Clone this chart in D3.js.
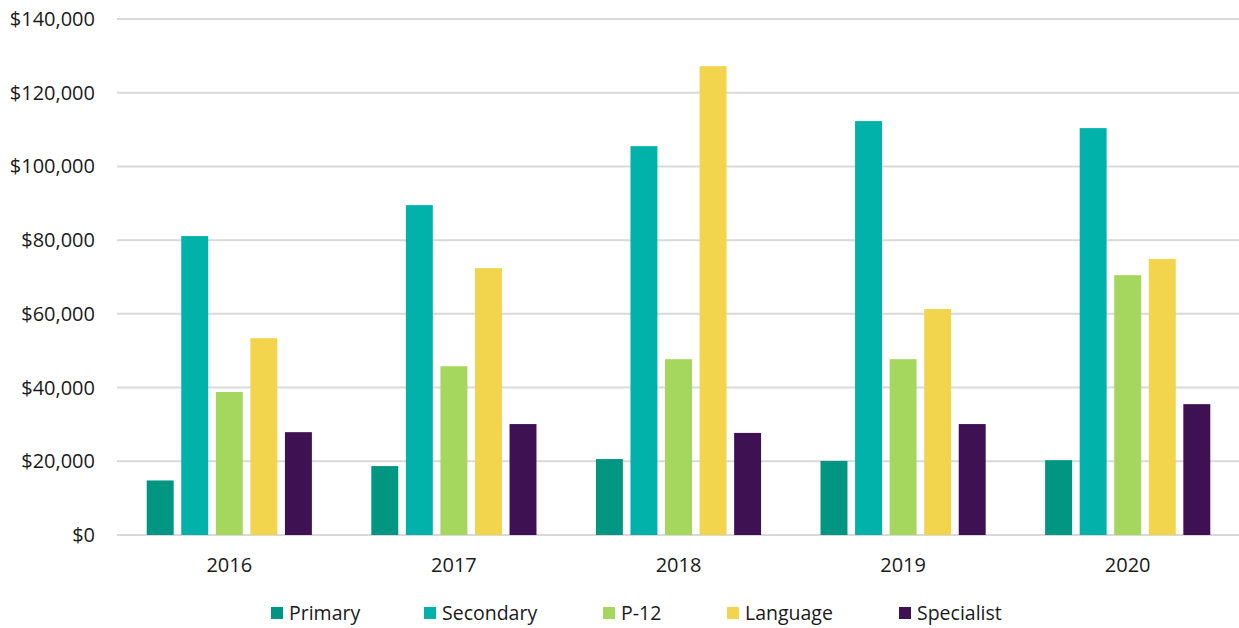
<!DOCTYPE html>
<html>
<head>
<meta charset="utf-8">
<script src="https://cdn.jsdelivr.net/npm/d3@7"></script>
<style>
body { margin: 0; background: #fff; }
svg text { font-family: "Open Sans", "Noto Sans", sans-serif; fill: #1a1a1a; }
</style>
</head>
<body>
<svg width="1239" height="628"></svg>
<script>
var years = ["2016", "2017", "2018", "2019", "2020"];
var seriesNames = ["Primary", "Secondary", "P-12", "Language", "Specialist"];
var primary = [14800, 18700, 20600, 20100, 20300];
var secondary = [81100, 89500, 105500, 112300, 110400];
var p12 = [38800, 45800, 47700, 47700, 70500];
var language = [53400, 72400, 127200, 61300, 74900];
var specialist = [27900, 30100, 27700, 30100, 35500];
var colors = ["#009681", "#00b2a9", "#a5d65e", "#f2d44d", "#3d1152"];
var yTicks = [0, 20000, 40000, 60000, 80000, 100000, 120000, 140000];

var series = [primary, secondary, p12, language, specialist];

var svg = d3.select("svg");
var m = {left: 117, right: 1240, top: 19, bottom: 535};

var x0 = d3.scaleBand().domain(years).range([m.left, m.right]);
var x1 = d3.scaleBand().domain(seriesNames).range([0, x0.bandwidth()])
  .paddingInner(0.22).paddingOuter(0.86);
var y = d3.scaleLinear().domain([0, 140000]).range([m.bottom, m.top]);

// gridlines
svg.append("g").selectAll("line")
  .data(yTicks)
  .enter().append("line")
  .attr("x1", m.left).attr("x2", m.right)
  .attr("y1", function(d) { return y(d); })
  .attr("y2", function(d) { return y(d); })
  .attr("stroke", "#d9d9d9")
  .attr("stroke-width", 2);

// y labels
var fmt = d3.format(",");
svg.append("g").selectAll("text")
  .data(yTicks)
  .enter().append("text")
  .attr("x", 95)
  .attr("y", function(d) { return y(d); })
  .attr("dy", "0.35em")
  .attr("text-anchor", "end")
  .attr("font-size", 20)
  .text(function(d) { return "$" + fmt(d); });

// bars
var groups = svg.append("g").selectAll("g")
  .data(years)
  .enter().append("g")
  .attr("transform", function(d) { return "translate(" + x0(d) + ",0)"; });

groups.selectAll("rect")
  .data(function(d, i) { return seriesNames.map(function(s, j) { return {name: s, value: series[j][i], c: colors[j]}; }); })
  .enter().append("rect")
  .attr("x", function(d) { return x1(d.name); })
  .attr("width", x1.bandwidth())
  .attr("y", function(d) { return y(d.value); })
  .attr("height", function(d) { return y(0) - y(d.value); })
  .attr("fill", function(d) { return d.c; });

// x labels
svg.append("g").selectAll("text")
  .data(years)
  .enter().append("text")
  .attr("x", function(d) { return x0(d) + x0.bandwidth() / 2; })
  .attr("y", 572)
  .attr("text-anchor", "middle")
  .attr("font-size", 20)
  .text(function(d) { return d; });

// legend
var legendX = [271, 424, 603, 727, 899];
var lg = svg.append("g").selectAll("g")
  .data(seriesNames)
  .enter().append("g")
  .attr("transform", function(d, i) { return "translate(" + legendX[i] + ",613)"; });
lg.append("rect")
  .attr("width", 12).attr("height", 12)
  .attr("y", -6)
  .attr("fill", function(d, i) { return colors[i]; });
lg.append("text")
  .attr("x", 18)
  .attr("y", 0)
  .attr("dy", "0.35em")
  .attr("font-size", 19.5)
  .text(function(d) { return d; });
</script>
</body>
</html>
